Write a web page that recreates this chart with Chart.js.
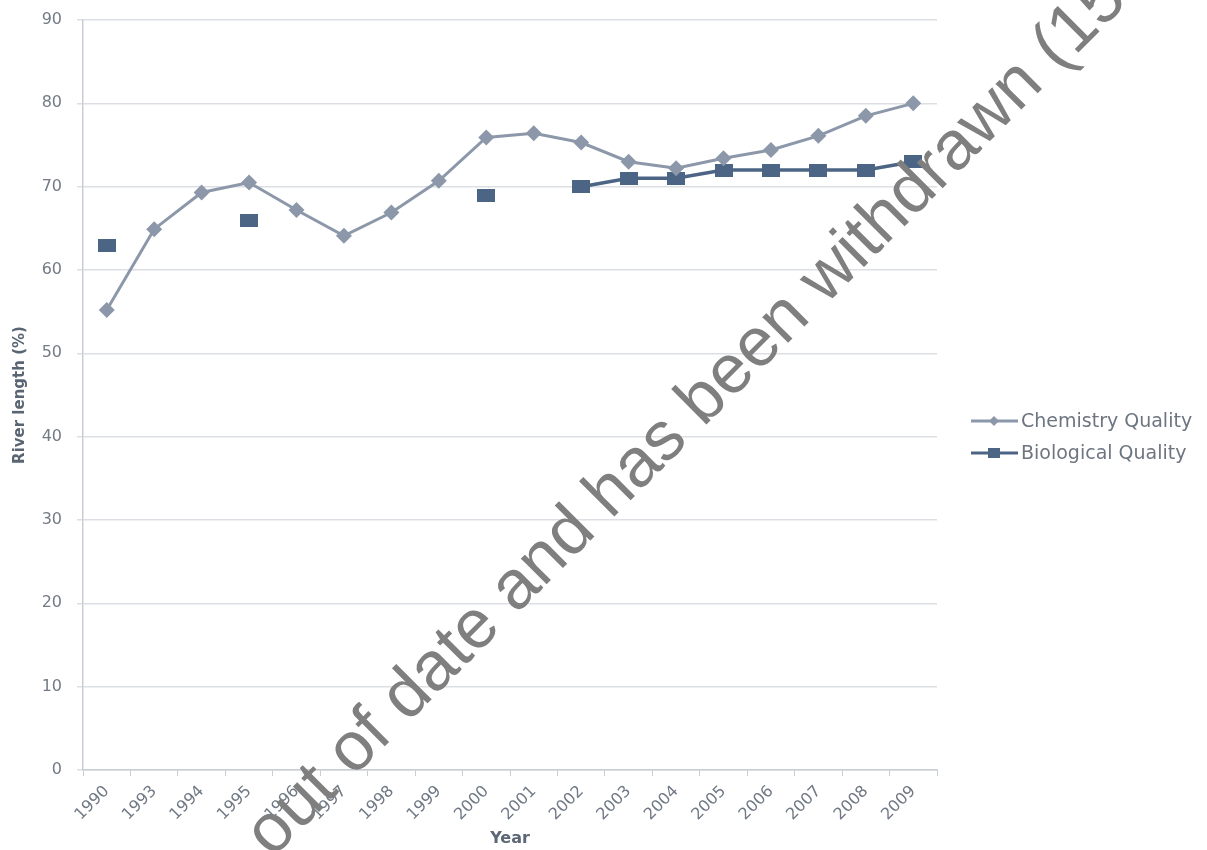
<!DOCTYPE html>
<html>
<head>
<meta charset="utf-8">
<script src="https://cdn.jsdelivr.net/npm/chart.js@4.4.1/dist/chart.umd.min.js"></script>
<style>
  html, body { margin: 0; padding: 0; background: #fff; }
  #wrap { width: 1207px; height: 850px; position: relative; }
</style>
</head>
<body>
<div id="wrap"><canvas id="chart"></canvas></div>
<script>
// data
const years = ['1990', '1993', '1994', '1995', '1996', '1997', '1998', '1999', '2000',
               '2001', '2002', '2003', '2004', '2005', '2006', '2007', '2008', '2009'];
const chemistry = [55.2, 64.9, 69.3, 70.5, 67.2, 64.1, 66.9, 70.7, 75.9,
                   76.4, 75.3, 73.0, 72.2, 73.4, 74.4, 76.1, 78.5, 80.0];
const biological = [63, null, null, 66, null, null, null, null, 69,
                    null, 70, 71, 71, 72, 72, 72, 72, 73];
const yTicks = [0, 10, 20, 30, 40, 50, 60, 70, 80, 90];
const watermark = 'out of date and has been withdrawn (15';

const chemColor = '#8c98a9';
const bioColor = '#4c6585';
const fontFam = '"DejaVu Sans", sans-serif';

// square marker, a bit wider than tall like the picture
function boxMarker(w, h) {
	const c = document.createElement('canvas');
	c.width = w; c.height = h;
	const g = c.getContext('2d');
	g.fillStyle = bioColor;
	g.fillRect(0, 0, w, h);
	return c;
}
const bioMarker = boxMarker(18, 13);
const bioLegendMarker = boxMarker(12, 10);

// legend drawn by hand: line with marker in the middle
const sideLegend = {
	id: 'sideLegend',
	afterDraw(chart) {
		const ctx = chart.ctx;
		const x0 = 971, x1 = 1018, xm = 994;
		let y = 421;
		ctx.save();
		chart.data.datasets.forEach(function(ds, i) {
			ctx.strokeStyle = ds.borderColor;
			ctx.lineWidth = 3;
			ctx.beginPath();
			ctx.moveTo(x0, y);
			ctx.lineTo(x1, y);
			ctx.stroke();
			if (i === 0) {
				ctx.fillStyle = ds.borderColor;
				ctx.beginPath();
				ctx.moveTo(xm, y - 5);
				ctx.lineTo(xm + 5, y);
				ctx.lineTo(xm, y + 5);
				ctx.lineTo(xm - 5, y);
				ctx.closePath();
				ctx.fill();
			} else {
				ctx.drawImage(bioLegendMarker, xm - 6, y - 5);
			}
			ctx.fillStyle = '#6d7581';
			ctx.font = '19px ' + fontFam;
			ctx.textAlign = 'left';
			ctx.textBaseline = 'middle';
			ctx.fillText(ds.label, 1021, y + 1);
			y += 32;
		});
		ctx.restore();
	}
};

// diagonal stamp across the picture
const stamp = {
	id: 'stamp',
	afterDraw(chart) {
		const ctx = chart.ctx;
		ctx.save();
		ctx.translate(272, 859);
		ctx.rotate(-Math.PI / 4);
		ctx.fillStyle = '#7f7f7f';
		ctx.font = '69px "Liberation Sans", Arial, sans-serif';
		ctx.textAlign = 'left';
		ctx.textBaseline = 'alphabetic';
		ctx.fillText(watermark, 0, 0);
		ctx.restore();
	}
};

const config = {
	type: 'line',
	data: {
		labels: years,
		datasets: [
			{
				label: 'Chemistry Quality',
				data: chemistry,
				borderColor: chemColor,
				backgroundColor: chemColor,
				borderWidth: 3,
				tension: 0,
				pointStyle: 'rectRot',
				pointRadius: 8,
				pointBorderWidth: 0,
				pointBackgroundColor: chemColor
			},
			{
				label: 'Biological Quality',
				data: biological,
				borderColor: bioColor,
				backgroundColor: bioColor,
				borderWidth: 3.5,
				tension: 0,
				spanGaps: false,
				pointStyle: bioMarker,
				pointRadius: 9
			}
		]
	},
	options: {
		responsive: true,
		maintainAspectRatio: false,
		animation: false,
		layout: {
			padding: { top: 20, right: 270, left: 0, bottom: 0 }
		},
		plugins: {
			legend: { display: false },
			tooltip: { enabled: false }
		},
		scales: {
			x: {
				type: 'category',
				offset: true,
				grid: {
					display: true,
					drawOnChartArea: false,
					drawTicks: true,
					tickLength: 6,
					color: '#c9cdd3',
					offset: true
				},
				border: { display: true, color: '#c9cdd3', width: 1.5 },
				ticks: {
					color: '#6f7884',
					font: { family: fontFam, size: 16 },
					minRotation: 45,
					maxRotation: 45,
					autoSkip: false,
					padding: 6
				},
				title: {
					display: true,
					text: 'Year',
					color: '#5b6776',
					font: { family: fontFam, size: 16, weight: 'bold' },
					padding: { top: 0, bottom: 2 }
				},
				afterFit: function(scale) { scale.height = 80; }
			},
			y: {
				min: 0,
				max: 90,
				afterBuildTicks: function(scale) {
					scale.ticks = yTicks.map(function(v) { return { value: v }; });
				},
				grid: {
					color: '#dcdfe3',
					lineWidth: 1.5,
					tickLength: 6
				},
				border: { display: true, color: '#c9cdd3', width: 1.5 },
				ticks: {
					color: '#737b86',
					font: { family: fontFam, size: 16 },
					padding: 15
				},
				title: {
					display: true,
					text: 'River length (%)',
					color: '#5a6573',
					font: { family: fontFam, size: 15, weight: 'bold' },
					padding: { top: 11, bottom: 0 }
				},
				afterFit: function(scale) {
					scale.width = 83;
					scale.paddingTop = 10;
					scale.paddingBottom = 10;
				}
			}
		}
	},
	plugins: [sideLegend, stamp]
};

let ctx = document.getElementById('chart').getContext('2d');
let chart = new Chart(ctx, config);
</script>
</body>
</html>
